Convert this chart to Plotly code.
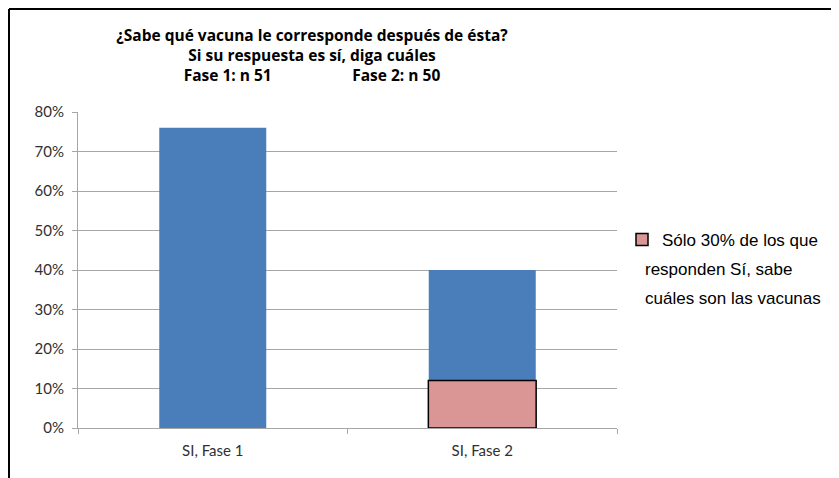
import plotly.graph_objects as go

categories = ["SI, Fase 1", "SI, Fase 2"]
si_values = [0.76, 0.40]
sabe_categories = ["SI, Fase 2"]
sabe_values = [0.12]
legend_lines = ["Sólo 30% de los que", "responden Sí, sabe", "cuáles son las vacunas"]
title_lines = ["¿Sabe qué vacuna le corresponde después de ésta?",
               "Si su respuesta es sí, diga cuáles",
               "Fase 1: n 51" + "\u00a0" * 20 + "Fase 2: n 50"]
y_ticks = [0, 0.1, 0.2, 0.3, 0.4, 0.5, 0.6, 0.7, 0.8]

# page body has an 8px margin
OFF = 8
W, H = 831, 470
L, R, T, B = 70, 222, 104, 50
PX0, PX1 = OFF + L, OFF + W - R
PY0, PY1 = OFF + T, OFF + H - B


def px_to_paper_x(px):
    return (px - PX0) / (PX1 - PX0)


def px_to_paper_y(py):
    return (PY1 - py) / (PY1 - PY0)


fig = go.Figure()
fig.add_trace(go.Bar(x=categories, y=si_values, marker=dict(color="#4a7ebb", line=dict(width=0)),
                     showlegend=False, width=0.397))
fig.add_trace(go.Bar(x=sabe_categories, y=sabe_values, name=legend_lines[0],
                     marker=dict(color="#d99694", line=dict(color="#000000", width=1.5)),
                     width=0.4))

annotations = []
for i, line in enumerate(legend_lines[1:]):
    annotations.append(dict(text=line, xref="paper", yref="paper",
                            x=px_to_paper_x(643), y=px_to_paper_y(269 + 29.5 * i),
                            xanchor="left", yanchor="middle", showarrow=False,
                            font=dict(family="Liberation Sans, Arial", size=17, color="#000000")))

tick_font = dict(family="Lato", size=15, color="#303030")

fig.update_layout(
    width=W, height=H,
    margin=dict(l=L, r=R, t=T, b=B),
    paper_bgcolor="white", plot_bgcolor="white",
    barmode="overlay",
    title=dict(text="<br>".join(title_lines), x=(312 - OFF) / W,
               xanchor="center", y=1 - 33 / H, yanchor="top",
               font=dict(family="Open Sans", size=15.5, color="#000000", weight="bold")),
    legend=dict(x=px_to_paper_x(622), y=px_to_paper_y(240), xanchor="left", yanchor="middle",
                font=dict(family="Liberation Sans, Arial", size=17, color="#000000"),
                bgcolor="rgba(0,0,0,0)", itemwidth=30),
    xaxis=dict(type="category", showline=True, linecolor="#a6a6a6", linewidth=1,
               ticks="outside", tickson="boundaries", ticklen=5, tickcolor="#a6a6a6",
               showgrid=False, tickfont=tick_font, ticklabelstandoff=9,
               range=[-0.5, 1.5]),
    yaxis=dict(range=[0, 0.8], tickvals=y_ticks, tickformat=".0%", showline=True,
               linecolor="#a6a6a6", linewidth=1, ticks="outside", ticklen=5, tickcolor="#a6a6a6",
               showgrid=True, gridcolor="#a6a6a6", gridwidth=1, zeroline=False,
               tickfont=tick_font, ticklabelstandoff=5),
    annotations=annotations,
    shapes=[
        dict(type="line", xref="paper", yref="paper", x0=px_to_paper_x(9), x1=px_to_paper_x(845),
             y0=px_to_paper_y(9), y1=px_to_paper_y(9), line=dict(color="#000000", width=2)),
        dict(type="line", xref="paper", yref="paper", x0=px_to_paper_x(9), x1=px_to_paper_x(9),
             y0=px_to_paper_y(9), y1=px_to_paper_y(485), line=dict(color="#000000", width=2)),
    ],
)

fig.write_html("out.html")
